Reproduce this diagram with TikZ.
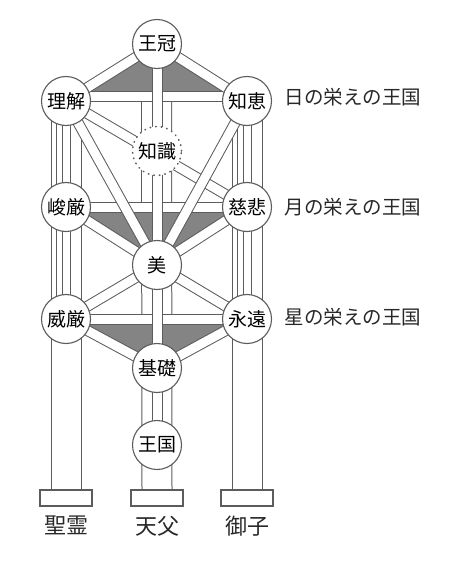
\documentclass[tikz,border=0pt]{standalone}
\usepackage{fontspec}
\newfontfamily\jpfont{Noto Sans CJK JP}
\usetikzlibrary{positioning, calc}
\definecolor{linegray}{RGB}{92, 92, 92}
\definecolor{shadegray}{RGB}{132, 132, 132}
\definecolor{inkgray}{RGB}{40, 40, 40}

\pgfdeclarelayer{pillars}
\pgfdeclarelayer{shade}
\pgfdeclarelayer{paths}
\pgfsetlayers{pillars,shade,paths,main}

\tikzset{
  sephira/.style={circle, draw=linegray, line width=1.1pt, fill=white, minimum size=49pt, inner sep=0pt, font=\jpfont\fontsize{19}{19}\selectfont},
  veiled/.style={sephira, dash pattern=on 0.6pt off 5pt, line width=1.6pt, line cap=round},
  bar/.style={draw=linegray, line width=1pt, double=white, double distance=9pt},
  pillar/.style={draw=linegray, line width=1pt, double=white, double distance=29pt},
  plinth/.style={draw=linegray, line width=2pt, fill=white, minimum width=52pt, minimum height=16pt, inner sep=0pt},
  realm/.style={font=\jpfont\fontsize{19.5}{20}\selectfont, text=inkgray, inner sep=0pt},
  person/.style={font=\jpfont\fontsize{22}{22}\selectfont, text=inkgray, inner sep=0pt}
}

\begin{document}
\begin{tikzpicture}[x=1pt, y=-1pt]
  \useasboundingbox (0,0) rectangle (459,569);

  % the ten spheres and the hidden one
  \node[sephira] (keter) at (157,44) {王冠};
  \node[sephira] (binah) at (66,101) {理解};
  \node[sephira] (chokmah) at (247,101) {知恵};
  \node[veiled] (daat) at (157,151) {知識};
  \node[sephira] (gevurah) at (66,207) {峻厳};
  \node[sephira] (chesed) at (247,207) {慈悲};
  \node[sephira] (tiferet) at (157,265) {美};
  \node[sephira] (hod) at (66,319) {威厳};
  \node[sephira] (netzach) at (247,319) {永遠};
  \node[sephira] (yesod) at (157,368) {基礎};
  \node[sephira] (malkuth) at (157,445) {王国};

  % bases of the pillars
  \node[plinth] (spirit) at (66,498) {};
  \node[plinth] (father) at (157,498) {};
  \node[plinth] (son) at (247,498) {};
  \node[person, below=9pt of spirit] (spirit-name) {聖霊};
  \node[person, below=9pt of father] (father-name) {天父};
  \node[person, below=9pt of son] (son-name) {御子};

  % kingdoms
  \node[realm, right=12.5pt of chokmah, yshift=4pt] (sun) {日の栄えの王国};
  \node[realm, right=12.5pt of chesed] (moon) {月の栄えの王国};
  \node[realm, right=12.5pt of netzach, yshift=2pt] (star) {星の栄えの王国};

  \begin{pgfonlayer}{pillars}
    \draw[pillar] (binah.center) -- (spirit.north);
    \draw[pillar] ($(binah)!0.5!(chokmah)$) -- (father.north);
    \draw[pillar] (chokmah.center) -- (son.north);
    \draw[linegray, line width=1pt] ([xshift=-10pt]binah.center) -- ([xshift=-10pt]hod.center);
    \draw[linegray, line width=1pt] ([xshift=-10pt]chokmah.center) -- ([xshift=-10pt]netzach.center);
  \end{pgfonlayer}

  \begin{pgfonlayer}{shade}
    \fill[shadegray] (keter.center) -- (binah.center) -- (chokmah.center) -- cycle;
    \fill[shadegray] (gevurah.center) -- (chesed.center) -- (tiferet.center) -- cycle;
    \fill[shadegray] (hod.center) -- (netzach.center) -- (yesod.center) -- cycle;
  \end{pgfonlayer}

  \begin{pgfonlayer}{paths}
    \draw[bar] ([yshift=4pt]binah.center) -- ([yshift=4pt]chokmah.center);
    \draw[bar] (gevurah.center) -- (chesed.center);
    \draw[bar] (hod.center) -- (netzach.center);
    \foreach \a/\b in {keter/binah, keter/chokmah, binah/chesed, binah/tiferet, chokmah/tiferet,
                       gevurah/tiferet, chesed/tiferet, tiferet/hod, tiferet/netzach, hod/yesod, netzach/yesod}
      \draw[bar] (\a.center) -- (\b.center);
    \draw[bar, double distance=7pt] (binah.center) -- (hod.center);
    \draw[bar, double distance=7pt] (chokmah.center) -- (netzach.center);
    \draw[bar] (keter.center) -- (malkuth.center);
  \end{pgfonlayer}
\end{tikzpicture}
\end{document}
